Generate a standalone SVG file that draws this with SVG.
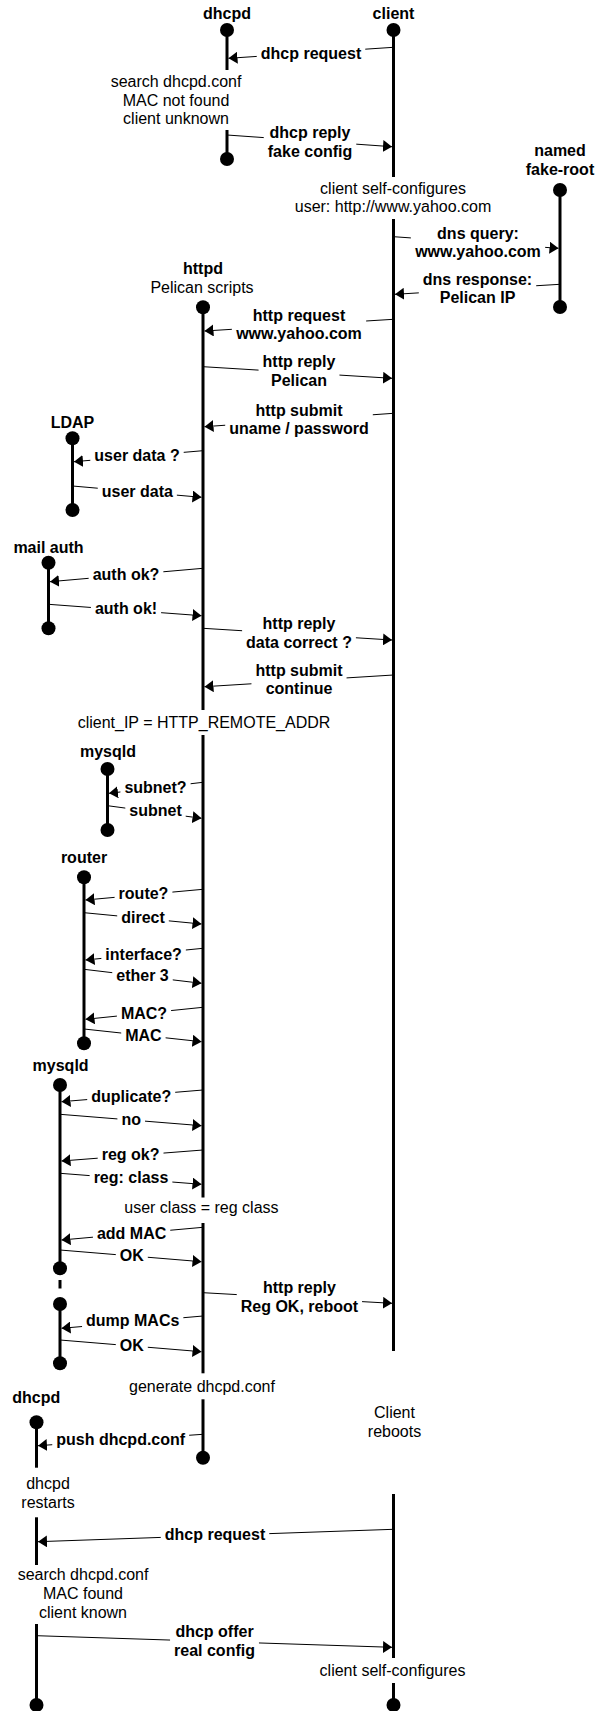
<svg xmlns="http://www.w3.org/2000/svg" width="595" height="1711" viewBox="0 0 595 1711">
<style>
text{font-family:"Liberation Sans",Arial,Helvetica,sans-serif;font-size:16px;fill:#000;text-anchor:middle}
.b{font-weight:bold}
.ll{stroke:#000;stroke-width:3;fill:none}
.dash{stroke:#000;stroke-width:3;fill:none}
.dot{fill:#000}
.msg line{stroke:#000;stroke-width:1;marker-end:url(#ah)}
.msg rect{fill:#fff}
</style>
<defs>
<marker id="ah" viewBox="0 0 9 12" refX="9" refY="6" markerWidth="9" markerHeight="12" markerUnits="userSpaceOnUse" orient="auto"><path d="M0,0 L9,6 L0,12 z" fill="#000"/></marker>
</defs>
<rect x="0" y="0" width="595" height="1711" fill="#fff"/>

<g id="nodes">
<g id="dhcpd1">
<text class="b" x="227" y="19">dhcpd</text>
<line class="ll" x1="227" y1="30" x2="227" y2="70"/>
<line class="ll" x1="227" y1="130" x2="227" y2="159"/>
<circle class="dot" cx="227" cy="30" r="7"/>
<circle class="dot" cx="227" cy="159" r="7"/>
</g>
<g id="client">
<text class="b" x="393.5" y="19">client</text>
<line class="ll" x1="393.5" y1="30" x2="393.5" y2="177"/>
<line class="ll" x1="393.5" y1="219" x2="393.5" y2="1351"/>
<line class="ll" x1="393.5" y1="1494" x2="393.5" y2="1658"/>
<line class="ll" x1="393.5" y1="1683" x2="393.5" y2="1705"/>
<circle class="dot" cx="393.5" cy="30" r="7"/>
<circle class="dot" cx="393.5" cy="1705" r="7"/>
</g>
<g id="named">
<text class="b" x="560" y="156">named</text>
<text class="b" x="560" y="174.5">fake-root</text>
<line class="ll" x1="560" y1="190" x2="560" y2="307"/>
<circle class="dot" cx="560" cy="190" r="7"/>
<circle class="dot" cx="560" cy="307" r="7"/>
</g>
<g id="httpd">
<text class="b" x="203" y="274">httpd</text>
<text x="202" y="292.5">Pelican scripts</text>
<line class="ll" x1="203" y1="307" x2="203" y2="710"/>
<line class="ll" x1="203" y1="735" x2="203" y2="1197.5"/>
<line class="ll" x1="203" y1="1223" x2="203" y2="1373.3"/>
<line class="ll" x1="203" y1="1399.3" x2="203" y2="1457.7"/>
<circle class="dot" cx="203" cy="307.3" r="7"/>
<circle class="dot" cx="203" cy="1457.7" r="7"/>
</g>
<g id="ldap">
<text class="b" x="72.5" y="427.7">LDAP</text>
<line class="ll" x1="72.5" y1="438.3" x2="72.5" y2="510"/>
<circle class="dot" cx="72.5" cy="438.3" r="7"/>
<circle class="dot" cx="72.5" cy="510" r="7"/>
</g>
<g id="mailauth">
<text class="b" x="48.5" y="552.7">mail auth</text>
<line class="ll" x1="48.5" y1="562.7" x2="48.5" y2="628.3"/>
<circle class="dot" cx="48.5" cy="562.7" r="7"/>
<circle class="dot" cx="48.5" cy="628.3" r="7"/>
</g>
<g id="mysqld1">
<text class="b" x="108" y="756.7">mysqld</text>
<line class="ll" x1="107.5" y1="769" x2="107.5" y2="830"/>
<circle class="dot" cx="107.5" cy="769" r="7"/>
<circle class="dot" cx="107.5" cy="830" r="7"/>
</g>
<g id="router">
<text class="b" x="84" y="863.3">router</text>
<line class="ll" x1="84" y1="877.3" x2="84" y2="1043.3"/>
<circle class="dot" cx="84" cy="877.3" r="7"/>
<circle class="dot" cx="84" cy="1043.3" r="7"/>
</g>
<g id="mysqld2">
<text class="b" x="60.6" y="1070.7">mysqld</text>
<line class="ll" x1="60" y1="1085" x2="60" y2="1268.3"/>
<line class="dash" x1="60" y1="1280" x2="60" y2="1288.5"/>
<line class="ll" x1="60" y1="1304" x2="60" y2="1363.3"/>
<circle class="dot" cx="60" cy="1085" r="7"/>
<circle class="dot" cx="60" cy="1268.3" r="7"/>
<circle class="dot" cx="60" cy="1304" r="7"/>
<circle class="dot" cx="60" cy="1363.3" r="7"/>
</g>
<g id="dhcpd2">
<text class="b" x="36.2" y="1402.7">dhcpd</text>
<line class="ll" x1="36.5" y1="1422.3" x2="36.5" y2="1467.7"/>
<line class="ll" x1="36.5" y1="1517.3" x2="36.5" y2="1565"/>
<line class="ll" x1="36.5" y1="1624" x2="36.5" y2="1705"/>
<circle class="dot" cx="36.5" cy="1422.3" r="7"/>
<circle class="dot" cx="36.5" cy="1705" r="7"/>
</g>
</g>

<g id="notes">
<text x="176" y="87">search dhcpd.conf</text>
<text x="176" y="105.5">MAC not found</text>
<text x="176" y="124">client unknown</text>
<text x="393" y="193.5">client self-configures</text>
<text x="393" y="211.8">user: http://www.yahoo.com</text>
<text x="204" y="728.3">client_IP = HTTP_REMOTE_ADDR</text>
<text x="201.4" y="1212.7">user class = reg class</text>
<text x="202" y="1391.7">generate dhcpd.conf</text>
<text x="394.5" y="1418.3">Client</text>
<text x="394.5" y="1436.7">reboots</text>
<text x="48" y="1489">dhcpd</text>
<text x="48" y="1507.5">restarts</text>
<text x="83" y="1580">search dhcpd.conf</text>
<text x="83" y="1599">MAC found</text>
<text x="83" y="1617.7">client known</text>
<text x="392.5" y="1676">client self-configures</text>
</g>

<g id="connectors">
<g class="msg"><line x1="393.5" y1="47.3" x2="228.5" y2="58.3"/><rect x="256.75" y="46" width="108.5" height="17"/><text class="b" x="311" y="59">dhcp request</text></g>
<g class="msg"><line x1="227" y1="135" x2="392" y2="146.7"/><rect x="263.75" y="125.3" width="92.5" height="35.3"/><text class="b" x="310" y="138.3">dhcp reply</text><text class="b" x="310" y="156.6">fake config</text></g>
<g class="msg"><line x1="393.5" y1="236.7" x2="558.5" y2="248.3"/><rect x="410.85" y="225.5" width="134.3" height="35.3"/><text class="b" x="478" y="238.5">dns query:</text><text class="b" x="478" y="256.8">www.yahoo.com</text></g>
<g class="msg"><line x1="560" y1="284.3" x2="395" y2="294.3"/><rect x="418.8" y="272" width="117.4" height="35.3"/><text class="b" x="477.5" y="285">dns response:</text><text class="b" x="477.5" y="303.3">Pelican IP</text></g>
<g class="msg"><line x1="393.5" y1="319.3" x2="204.5" y2="331"/><rect x="231.85" y="307.7" width="134.3" height="35.3"/><text class="b" x="299" y="320.7">http request</text><text class="b" x="299" y="339">www.yahoo.com</text></g>
<g class="msg"><line x1="203" y1="366.7" x2="392" y2="378.3"/><rect x="258.55" y="354.3" width="80.9" height="35.3"/><text class="b" x="299" y="367.3">http reply</text><text class="b" x="299" y="385.6">Pelican</text></g>
<g class="msg"><line x1="393.5" y1="413.3" x2="204.5" y2="426.7"/><rect x="225.2" y="403" width="147.6" height="35.3"/><text class="b" x="299" y="416">http submit</text><text class="b" x="299" y="434.3">uname / password</text></g>
<g class="msg"><line x1="203" y1="450.7" x2="74" y2="461.7"/><rect x="90.3" y="448" width="93.4" height="17"/><text class="b" x="137" y="461">user data ?</text></g>
<g class="msg"><line x1="72.5" y1="486" x2="201.5" y2="497.3"/><rect x="97.75" y="483.7" width="79.1" height="17"/><text class="b" x="137.3" y="496.7">user data</text></g>
<g class="msg"><line x1="203" y1="568.3" x2="50" y2="581.7"/><rect x="88.65" y="566.5" width="74.7" height="17"/><text class="b" x="126" y="579.5">auth ok?</text></g>
<g class="msg"><line x1="48.5" y1="604.3" x2="201.5" y2="615.7"/><rect x="90.9" y="601.3" width="70.2" height="17"/><text class="b" x="126" y="614.3">auth ok!</text></g>
<g class="msg"><line x1="203" y1="628.3" x2="392" y2="640"/><rect x="242.1" y="616.3" width="113.8" height="35.4"/><text class="b" x="299" y="629.3">http reply</text><text class="b" x="299" y="647.7">data correct ?</text></g>
<g class="msg"><line x1="393.5" y1="675" x2="204.5" y2="686.7"/><rect x="251.45" y="663" width="95.1" height="35.3"/><text class="b" x="299" y="676">http submit</text><text class="b" x="299" y="694.3">continue</text></g>
<g class="msg"><line x1="203" y1="782.3" x2="109" y2="793.3"/><rect x="120.4" y="780.3" width="70.2" height="17"/><text class="b" x="155.5" y="793.3">subnet?</text></g>
<g class="msg"><line x1="107.5" y1="805.7" x2="201.5" y2="818.3"/><rect x="125.3" y="802.7" width="60.4" height="17"/><text class="b" x="155.5" y="815.7">subnet</text></g>
<g class="msg"><line x1="203" y1="889.3" x2="85.5" y2="900"/><rect x="114.6" y="886.3" width="57.8" height="17"/><text class="b" x="143.5" y="899.3">route?</text></g>
<g class="msg"><line x1="84" y1="912.7" x2="201.5" y2="924"/><rect x="117.2" y="910.3" width="51.6" height="17"/><text class="b" x="143" y="923.3">direct</text></g>
<g class="msg"><line x1="203" y1="948.3" x2="85.5" y2="960"/><rect x="101.35" y="946.5" width="84.5" height="17"/><text class="b" x="143.6" y="959.5">interface?</text></g>
<g class="msg"><line x1="84" y1="969.3" x2="201.5" y2="983.3"/><rect x="112.25" y="967.7" width="60.5" height="17"/><text class="b" x="142.5" y="980.7">ether 3</text></g>
<g class="msg"><line x1="203" y1="1007.3" x2="85.5" y2="1019.3"/><rect x="116.9" y="1006" width="54.2" height="17"/><text class="b" x="144" y="1019">MAC?</text></g>
<g class="msg"><line x1="84" y1="1029" x2="201.5" y2="1041.7"/><rect x="121.2" y="1027.7" width="44.4" height="17"/><text class="b" x="143.4" y="1040.7">MAC</text></g>
<g class="msg"><line x1="203" y1="1090" x2="61.5" y2="1101.7"/><rect x="87.2" y="1088.7" width="88" height="17"/><text class="b" x="131.2" y="1101.7">duplicate?</text></g>
<g class="msg"><line x1="60" y1="1114.3" x2="201.5" y2="1125.7"/><rect x="117.4" y="1112" width="27.6" height="17"/><text class="b" x="131.2" y="1125">no</text></g>
<g class="msg"><line x1="203" y1="1150" x2="61.5" y2="1161"/><rect x="97.7" y="1147" width="65.8" height="17"/><text class="b" x="130.6" y="1160">reg ok?</text></g>
<g class="msg"><line x1="60" y1="1173.3" x2="201.5" y2="1184.3"/><rect x="89.65" y="1170.3" width="82.7" height="17"/><text class="b" x="131" y="1183.3">reg: class</text></g>
<g class="msg"><line x1="203" y1="1227.3" x2="61.5" y2="1240"/><rect x="92.95" y="1226" width="77.3" height="17"/><text class="b" x="131.6" y="1239">add MAC</text></g>
<g class="msg"><line x1="60" y1="1250" x2="201.5" y2="1261.7"/><rect x="115.8" y="1248" width="32" height="17"/><text class="b" x="131.8" y="1261">OK</text></g>
<g class="msg"><line x1="203" y1="1292.7" x2="392" y2="1303.3"/><rect x="236.75" y="1280.3" width="125.3" height="35.4"/><text class="b" x="299.4" y="1293.3">http reply</text><text class="b" x="299.4" y="1311.7">Reg OK, reboot</text></g>
<g class="msg"><line x1="203" y1="1316" x2="61.5" y2="1328.3"/><rect x="82.05" y="1313" width="101.3" height="17"/><text class="b" x="132.7" y="1326">dump MACs</text></g>
<g class="msg"><line x1="60" y1="1340" x2="201.5" y2="1351.7"/><rect x="115.8" y="1337.5" width="32" height="17"/><text class="b" x="131.8" y="1350.5">OK</text></g>
<g class="msg"><line x1="203" y1="1434.3" x2="38" y2="1445.7"/><rect x="52.25" y="1432" width="136.9" height="17"/><text class="b" x="120.7" y="1445">push dhcpd.conf</text></g>
<g class="msg"><line x1="393.5" y1="1529.3" x2="38" y2="1541.7"/><rect x="160.75" y="1527" width="108.5" height="17"/><text class="b" x="215" y="1540">dhcp request</text></g>
<g class="msg"><line x1="36.5" y1="1635.7" x2="392" y2="1647.3"/><rect x="170.05" y="1623.7" width="88.9" height="36.3"/><text class="b" x="214.5" y="1636.7">dhcp offer</text><text class="b" x="214.5" y="1656">real config</text></g>
</g>
</svg>
